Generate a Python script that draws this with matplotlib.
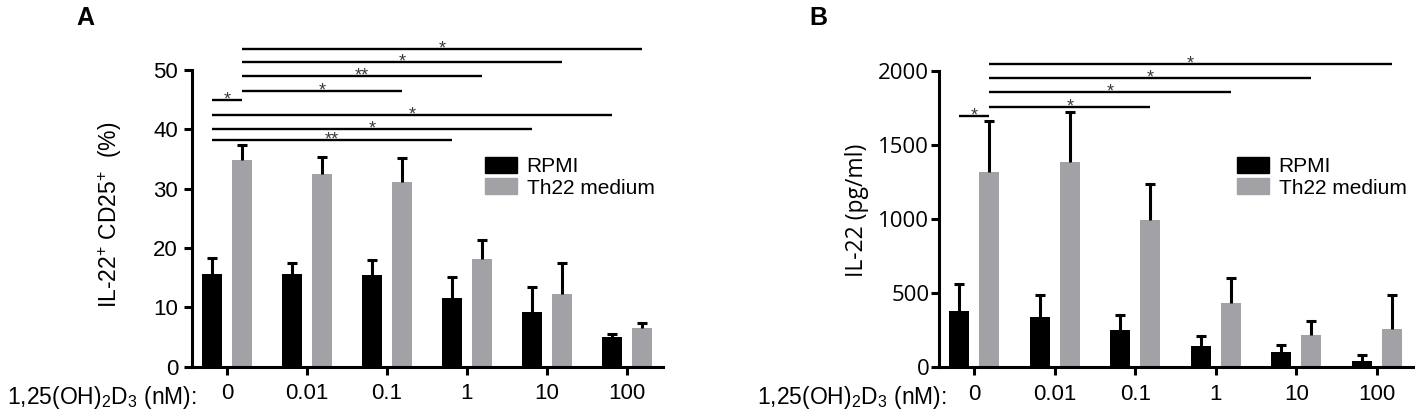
import numpy as np
import matplotlib
matplotlib.use('Agg')
import matplotlib.pyplot as plt
from matplotlib.patches import Patch

plt.rcParams['font.family'] = ['Liberation Sans', 'DejaVu Sans']
plt.rcParams['mathtext.fontset'] = 'custom'
plt.rcParams['mathtext.rm'] = 'Liberation Sans'
plt.rcParams['mathtext.it'] = 'Liberation Sans'
plt.rcParams['mathtext.default'] = 'regular'

# datos
dosis = ['0', '0.01', '0.1', '1', '10', '100']

# panel A: IL-22+ CD25+ (%)
rpmi_A = [15.7, 15.6, 15.4, 11.6, 9.3, 5.0]
rpmi_A_err = [2.6, 1.9, 2.6, 3.6, 4.2, 0.5]
th22_A = [34.9, 32.4, 31.2, 18.1, 12.2, 6.6]
th22_A_err = [2.5, 3.0, 3.9, 3.3, 5.2, 0.8]

# panel B: IL-22 (pg/ml)
rpmi_B = [380, 337, 249, 146, 101, 45]
rpmi_B_err = [180, 153, 104, 65, 47, 38]
th22_B = [1315, 1382, 993, 431, 218, 256]
th22_B_err = [346, 337, 241, 169, 96, 229]

# comparaciones: (serie1, grupo1, serie2, grupo2, altura, etiqueta)
sig_A = [('g', 0, 'g', 5, 53.6, '*'),
         ('g', 0, 'g', 4, 51.3, '*'),
         ('g', 0, 'g', 3, 49.0, '**'),
         ('g', 0, 'g', 2, 46.4, '*'),
         ('b', 0, 'g', 0, 44.9, '*'),
         ('b', 0, 'b', 5, 42.4, '*'),
         ('b', 0, 'b', 4, 40.1, '*'),
         ('b', 0, 'b', 3, 38.2, '**')]
sig_B = [('g', 0, 'g', 5, 2045, '*'),
         ('g', 0, 'g', 4, 1949, '*'),
         ('g', 0, 'g', 3, 1856, '*'),
         ('g', 0, 'g', 2, 1753, '*'),
         ('b', 0, 'g', 0, 1697, '*')]

NEGRO = '#000000'
GRIS = '#a2a2a6'
ANCHO = 0.25
OFF = 0.1875


def panel(ax, negro, negro_err, gris, gris_err, sig, ymax, yticks, tick_font):
    x = np.arange(len(dosis))
    ekw = dict(ecolor='black', elinewidth=2.2, capsize=3.6, capthick=2.2)
    for xs, vals, errs, col, lab in [(x - OFF, negro, negro_err, NEGRO, 'RPMI'),
                                     (x + OFF, gris, gris_err, GRIS, 'Th22 medium')]:
        bars = ax.bar(xs, vals, ANCHO, color=col, label=lab,
                      yerr=[np.zeros(len(vals)), errs], error_kw=ekw, zorder=2)
        # solo la barra de error superior, sin tapa abajo
        caps = bars.errorbar.lines[1]
        caps[0].set_visible(False)

    pos = {'b': -OFF, 'g': OFF}
    for s1, g1, s2, g2, y, txt in sig:
        x1 = g1 + pos[s1]
        x2 = g2 + pos[s2]
        ax.plot([x1, x2], [y, y], color='black', lw=1.7, clip_on=False,
                solid_capstyle='butt')
        ax.annotate(txt, xy=((x1 + x2) / 2, y), xytext=(0, -3.2),
                    textcoords='offset points', ha='center', va='baseline',
                    fontsize=13, color='#3a3a3a', annotation_clip=False)

    ax.set_xlim(-0.4375, 5.45)
    ax.set_ylim(0, ymax)
    ax.set_yticks(yticks)
    ax.set_xticks(x)
    ax.set_xticklabels(dosis, fontsize=16)
    ax.set_yticklabels([str(v) for v in yticks], fontsize=16, family=tick_font)
    for s in ['top', 'right']:
        ax.spines[s].set_visible(False)
    for s in ['left', 'bottom']:
        ax.spines[s].set_linewidth(2.2)
    ax.tick_params(axis='both', direction='out', length=6, width=2.2)
    ax.tick_params(axis='x', pad=6)


fig = plt.figure(figsize=(14.16, 4.13), dpi=100)

axA = fig.add_axes([192 / 1416, 46.3 / 413, 471 / 1416, 296.7 / 413])
panel(axA, rpmi_A, rpmi_A_err, th22_A, th22_A_err, sig_A, 50,
      [0, 10, 20, 30, 40, 50], 'Liberation Sans')
axA.tick_params(axis='y', pad=4)
axA.set_ylabel('IL-22$^{+}$ CD25$^{+}$  (%)', fontsize=16.5, va='center')
axA.yaxis.set_label_coords(-0.174, 0.51)

axB = fig.add_axes([939 / 1416, 45.7 / 413, 474 / 1416, 296.6 / 413])
panel(axB, rpmi_B, rpmi_B_err, th22_B, th22_B_err, sig_B, 2000,
      [0, 500, 1000, 1500, 2000], 'Open Sans')
axB.tick_params(axis='y', pad=1)
axB.set_ylabel('IL-22 (pg/ml)', fontsize=16.5, va='center', family='Open Sans')
axB.yaxis.set_label_coords(-0.173, 0.53)

# leyendas
for ax, x0 in [(axA, 485), (axB, 1237)]:
    ax.legend(handles=[Patch(color=NEGRO, label='RPMI'),
                       Patch(color=GRIS, label='Th22 medium')],
              loc='upper left', bbox_to_anchor=(x0 / 1416, 1 - 157 / 413),
              bbox_transform=fig.transFigure, frameon=False, fontsize=15,
              handlelength=1.55, handleheight=0.8, handletextpad=0.45,
              labelspacing=0.1, borderpad=0, borderaxespad=0)

# etiqueta de dosis
for xr in [197, 947]:
    fig.text(xr / 1416, 1 - 404 / 413, '1,25(OH)$_2$D$_3$ (nM):',
             fontsize=16.5, ha='right', va='baseline')

# letras de panel
fig.text(76 / 1416, 1 - 25 / 413, 'A', fontsize=18, fontweight='bold',
         va='baseline')
fig.text(809 / 1416, 1 - 25 / 413, 'B', fontsize=18, fontweight='bold',
         va='baseline')

fig.savefig('out.png', dpi=100)
